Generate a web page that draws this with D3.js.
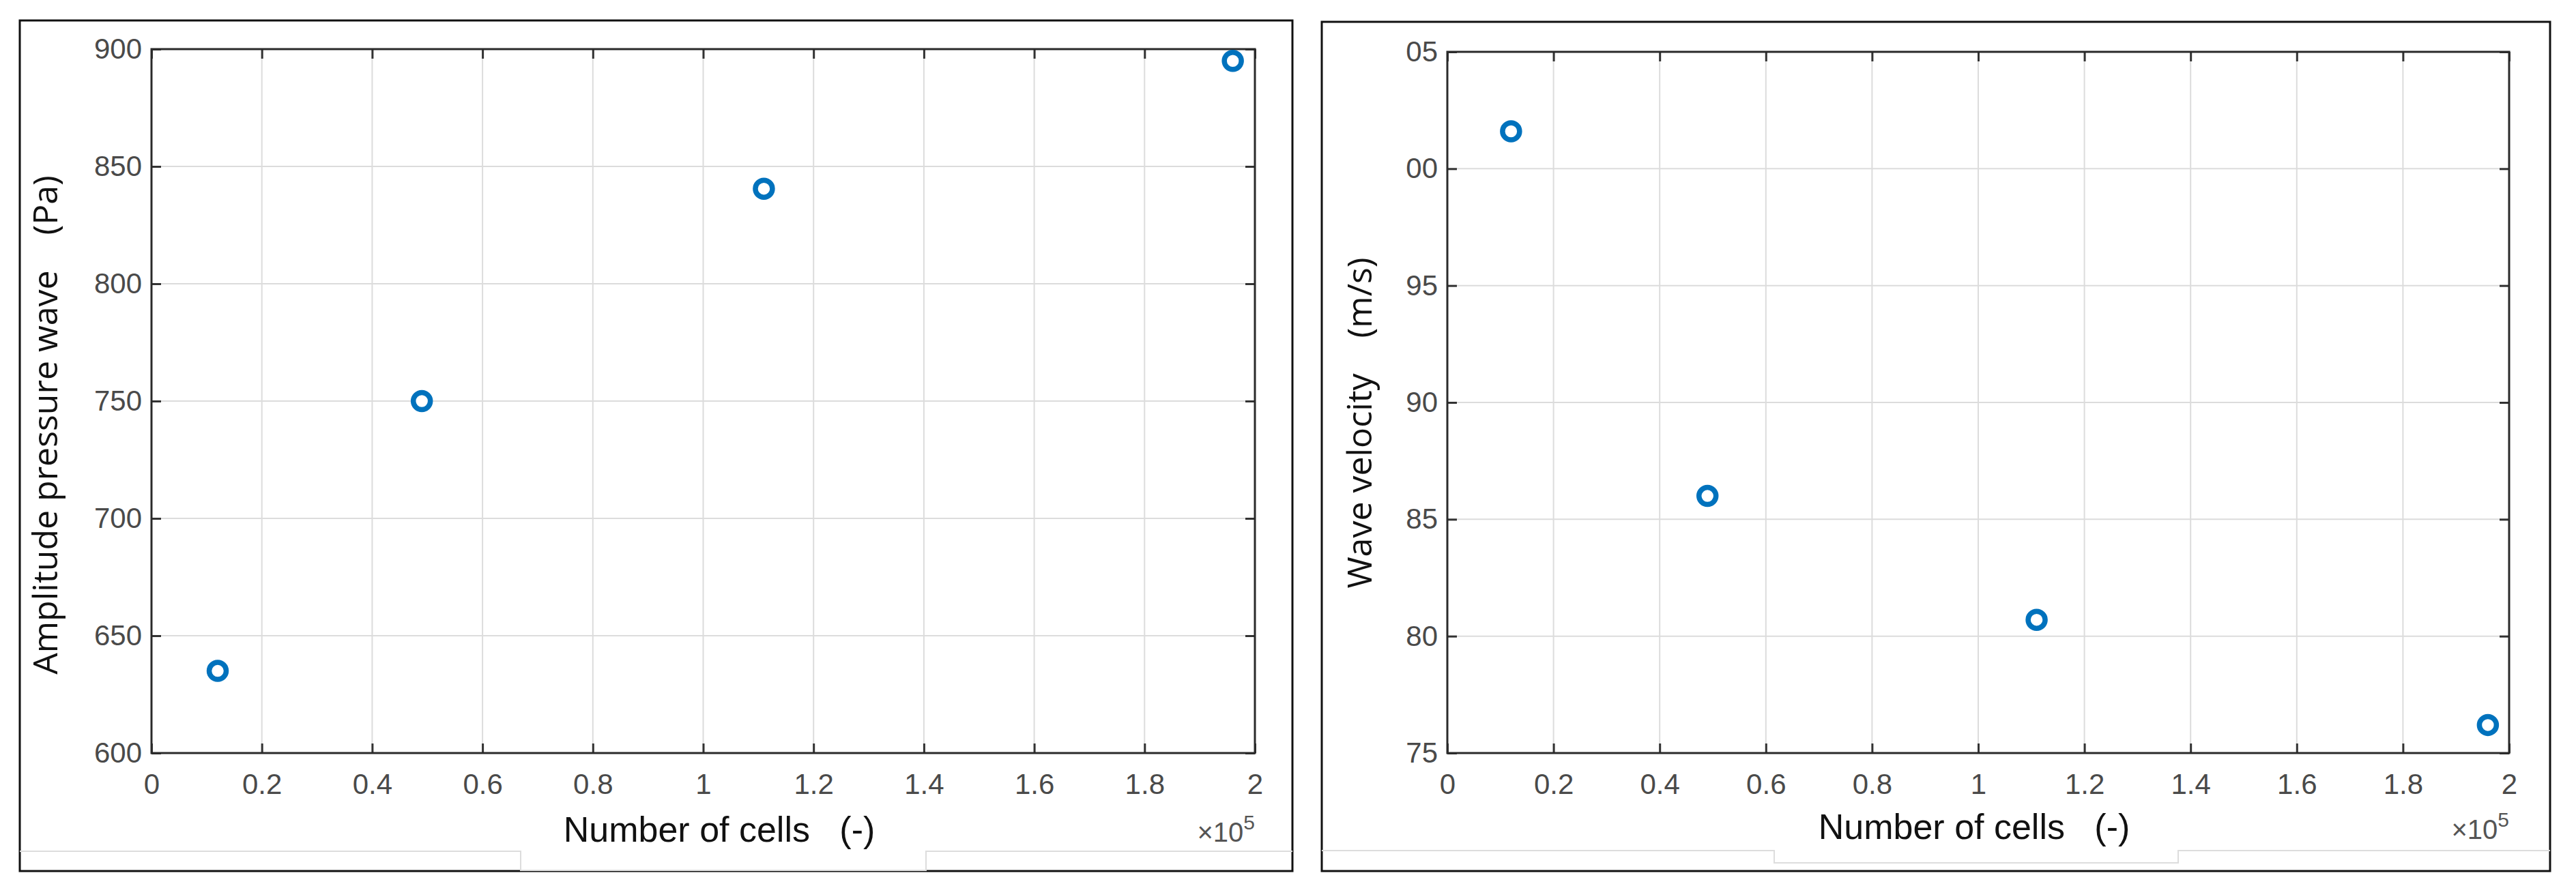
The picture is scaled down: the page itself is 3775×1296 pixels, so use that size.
<!DOCTYPE html>
<html><head><meta charset="utf-8">
<script src="https://cdn.jsdelivr.net/npm/d3@7"></script>
<style>body{margin:0;background:#fff}</style></head>
<body><svg id="c" width="3775" height="1296"></svg>
<script>
const cells = [0.12, 0.49, 1.11, 1.96];
const amplitude = [635, 750, 840.5, 895];
const velocity = [101.6, 86.0, 80.7, 76.2];
const xTicks = [0, 0.2, 0.4, 0.6, 0.8, 1, 1.2, 1.4, 1.6, 1.8, 2];
const ampTicks = [600, 650, 700, 750, 800, 850, 900];
const velTicks = [75, 80, 85, 90, 95, 100, 105];

const svg = d3.select("#c");
const blue = "#0072BD";

function panel(o) {
  const g = svg.append("g");
  g.append("rect").attr("x", o.box[0]).attr("y", o.box[1]).attr("width", o.box[2]-o.box[0]).attr("height", o.box[3]-o.box[1])
    .attr("fill", "#fff").attr("stroke", "#111").attr("stroke-width", 3);
  g.append("path").attr("fill", "none").attr("stroke", "#ddd").attr("stroke-width", 2)
    .attr("d", `M${o.box[0]},${o.strip} H${o.notch[0]} V${o.notch[2]} H${o.notch[1]} V${o.strip} H${o.box[2]}`);
  const x = d3.scaleLinear().domain([0, 2]).range([o.pl, o.pr]);
  const y = d3.scaleLinear().domain(o.ydom).range([o.pb, o.pt]);
  g.append("g").selectAll("line").data(xTicks).join("line")
    .attr("x1", d => x(d)).attr("x2", d => x(d)).attr("y1", o.pt).attr("y2", o.pb).attr("stroke", "#dcdcdc").attr("stroke-width", 2);
  g.append("g").selectAll("line").data(o.yticks).join("line")
    .attr("y1", d => y(d)).attr("y2", d => y(d)).attr("x1", o.pl).attr("x2", o.pr).attr("stroke", "#dcdcdc").attr("stroke-width", 2);
  const fmt = o.fmt;
  const style = sel => {
    sel.select(".domain").remove();
    sel.selectAll("line").attr("stroke", "#333").attr("stroke-width", 3);
    sel.selectAll("text").attr("fill", "#4a4a4a").style("font-family", "'Liberation Sans Narrow','Liberation Sans',sans-serif").style("font-size", "42px");
  };
  g.append("g").attr("transform", `translate(0,${o.pb})`).call(d3.axisBottom(x).tickValues(xTicks).tickFormat(d3.format("~g")).tickSizeInner(-14).tickSizeOuter(0).tickPadding(30)).call(style);
  g.append("g").attr("transform", `translate(0,${o.pt})`).call(d3.axisTop(x).tickValues(xTicks).tickFormat("").tickSizeInner(-14).tickSizeOuter(0)).call(style);
  g.append("g").attr("transform", `translate(${o.pl},0)`).call(d3.axisLeft(y).tickValues(o.yticks).tickFormat(fmt).tickSizeInner(-14).tickSizeOuter(0).tickPadding(14)).call(style);
  g.append("g").attr("transform", `translate(${o.pr},0)`).call(d3.axisRight(y).tickValues(o.yticks).tickFormat("").tickSizeInner(-14).tickSizeOuter(0)).call(style);
  g.append("rect").attr("x", o.pl).attr("y", o.pt).attr("width", o.pr-o.pl).attr("height", o.pb-o.pt).attr("fill", "none").attr("stroke", "#2a2a2a").attr("stroke-width", 3);
  g.append("g").selectAll("circle").data(cells.map((c, i) => [c, o.vals[i]])).join("circle")
    .attr("cx", d => x(d[0])).attr("cy", d => y(d[1])).attr("r", 12.5)
    .attr("fill", "#fff").attr("stroke", blue).attr("stroke-width", 7.5);
  g.append("text").attr("x", o.xl[0]).attr("y", o.xl[1]).attr("text-anchor", "middle")
    .style("font-family", "'Liberation Sans Narrow','Liberation Sans',sans-serif").style("font-size", "52px").attr("fill", "#111")
    .text("Number of cells\u00a0\u00a0\u00a0(-)");
  const ex = g.append("text").attr("x", o.pr).attr("y", o.xl[1]).attr("text-anchor", "end")
    .style("font-family", "'Liberation Sans Narrow','Liberation Sans',sans-serif").style("font-size", "40px").attr("fill", "#555");
  ex.append("tspan").text("\u00d710");
  ex.append("tspan").attr("dy", -18).style("font-size", "30px").text("5");
  g.append("text").attr("transform", `translate(${o.yl[0]},${o.yl[1]}) rotate(-90)`).attr("text-anchor", "middle")
    .style("font-family", "'Open Sans',sans-serif").style("font-size", "50px").attr("fill", "#111")
    .text(o.ylabel);
}

panel({box:[29,30,1894,1277], strip:1248, notch:[763,1357,1276], pl:222, pr:1839, pt:72, pb:1104,
  ydom:[600,900], yticks:ampTicks, vals:amplitude, fmt:d3.format("d"),
  xl:[1054,1234], yl:[84,623], ylabel:"Amplitude pressure wave\u00a0\u00a0\u00a0\u00a0(Pa)"});
panel({box:[1937,32,3737,1277], strip:1247, notch:[2600,3192,1265], pl:2121, pr:3677, pt:76, pb:1104,
  ydom:[75,105], yticks:velTicks, vals:velocity, fmt:d => String(d % 100).padStart(2, "0"),
  xl:[2893,1230], yl:[2010,620], ylabel:"Wave velocity\u00a0\u00a0\u00a0\u00a0(m/s)"});
</script></body></html>
